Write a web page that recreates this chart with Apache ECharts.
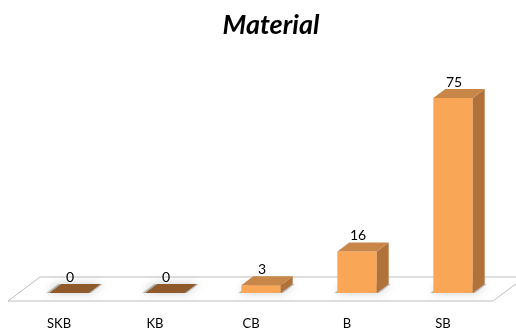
<!DOCTYPE html>
<html>
<head>
<meta charset="utf-8">
<script src="https://cdn.jsdelivr.net/npm/echarts@6/dist/echarts.min.js"></script>
<style>
  html, body { margin: 0; padding: 0; background: #ffffff; }
  #chart { width: 516px; height: 330px; }
</style>
</head>
<body>
<div id="chart"></div>
<script>
// Material counts per class
const categories = ['SKB', 'KB', 'CB', 'B', 'SB'];
const values = [0, 0, 3, 16, 75];
const titleText = 'Material';

// Oblique depth offset used for the pseudo-3D prisms
const DEPTH_X = 12;
const DEPTH_Y = -9;

const FRONT = '#F9A656';
const TOP = '#C98649';
const SIDE = '#B07239';
const FLAT = '#8E5A2B';

const chart = echarts.init(document.getElementById('chart'), null, { renderer: 'canvas' });

function renderFloor(params, api) {
  const cs = params.coordSys;
  const base = cs.y + cs.height;
  const left = cs.x, right = cs.x + cs.width;
  const pts = [
    [left - 13, base + 8],
    [right - 8, base + 8],
    [right + 24, base - 16],
    [left + 19, base - 16]
  ];
  return {
    type: 'polygon',
    shape: { points: pts },
    style: { fill: '#ffffff', stroke: '#BDBDBD', lineWidth: 1 },
    silent: true
  };
}

function renderShadow(params, api) {
  const base = api.coord([api.value(0), 0]);
  const w = api.size([1, 0])[0] * 0.41;
  const x0 = base[0] - w / 2, x1 = base[0] + w / 2;
  const y = base[1];
  return {
    type: 'polygon',
    shape: { points: [[x0 - 3, y], [x1 + 2, y], [x1 + DEPTH_X + 2, y + DEPTH_Y], [x0 + DEPTH_X - 3, y + DEPTH_Y]] },
    style: { fill: 'rgba(110,110,110,0.45)', shadowBlur: 10, shadowColor: 'rgba(0,0,0,0.45)' },
    silent: true
  };
}

function renderBar(params, api) {
  const idx = api.value(0);
  const val = api.value(1);
  const base = api.coord([idx, 0]);
  const top = api.coord([idx, val]);
  const w = api.size([1, 0])[0] * 0.41;
  const x0 = base[0] - w / 2, x1 = base[0] + w / 2;
  const yb = base[1], yt = top[1];
  const children = [];
  const topFace = [[x0, yt], [x1, yt], [x1 + DEPTH_X, yt + DEPTH_Y], [x0 + DEPTH_X, yt + DEPTH_Y]];
  if (val > 0) {
    children.push({
      type: 'rect',
      shape: { x: x0, y: yt, width: w, height: yb - yt },
      style: { fill: FRONT }
    });
    children.push({
      type: 'polygon',
      shape: { points: [[x1, yt], [x1 + DEPTH_X, yt + DEPTH_Y], [x1 + DEPTH_X, yb + DEPTH_Y], [x1, yb]] },
      style: { fill: SIDE }
    });
    children.push({ type: 'polygon', shape: { points: topFace }, style: { fill: TOP } });
  } else {
    children.push({ type: 'polygon', shape: { points: topFace }, style: { fill: FLAT } });
  }
  children.push({
    type: 'text',
    style: {
      x: base[0] + 1,
      y: yt + DEPTH_Y - 7,
      text: String(val),
      align: 'center',
      verticalAlign: 'middle',
      fill: '#000000',
      font: '14px Lato, "Open Sans", sans-serif'
    }
  });
  return { type: 'group', children: children };
}

const barData = values.map((v, i) => [i, v]);

chart.setOption({
  animation: false,
  backgroundColor: '#ffffff',
  title: {
    text: titleText,
    left: 266,
    top: 7,
    textAlign: 'center',
    textStyle: {
      fontFamily: 'Lato, "Open Sans", sans-serif',
      fontSize: 27,
      fontWeight: 'bold',
      fontStyle: 'italic',
      color: '#000000'
    }
  },
  grid: { left: 21, width: 480, top: 85, height: 208 },
  xAxis: {
    type: 'category',
    data: categories,
    axisLine: { show: false },
    axisTick: { show: false },
    axisLabel: {
      margin: 24,
      padding: [0, 20, 0, 0],
      fontSize: 13,
      color: '#000000',
      fontFamily: 'Lato, "Open Sans", sans-serif'
    }
  },
  yAxis: {
    type: 'value',
    min: 0,
    max: 80,
    show: false,
    splitLine: { show: false }
  },
  series: [
    { type: 'custom', renderItem: renderFloor, data: [[0, 0]], z: 1, silent: true },
    { type: 'custom', renderItem: renderShadow, data: barData, z: 2, silent: true },
    { type: 'custom', renderItem: renderBar, data: barData, z: 3 }
  ]
});
</script>
</body>
</html>
